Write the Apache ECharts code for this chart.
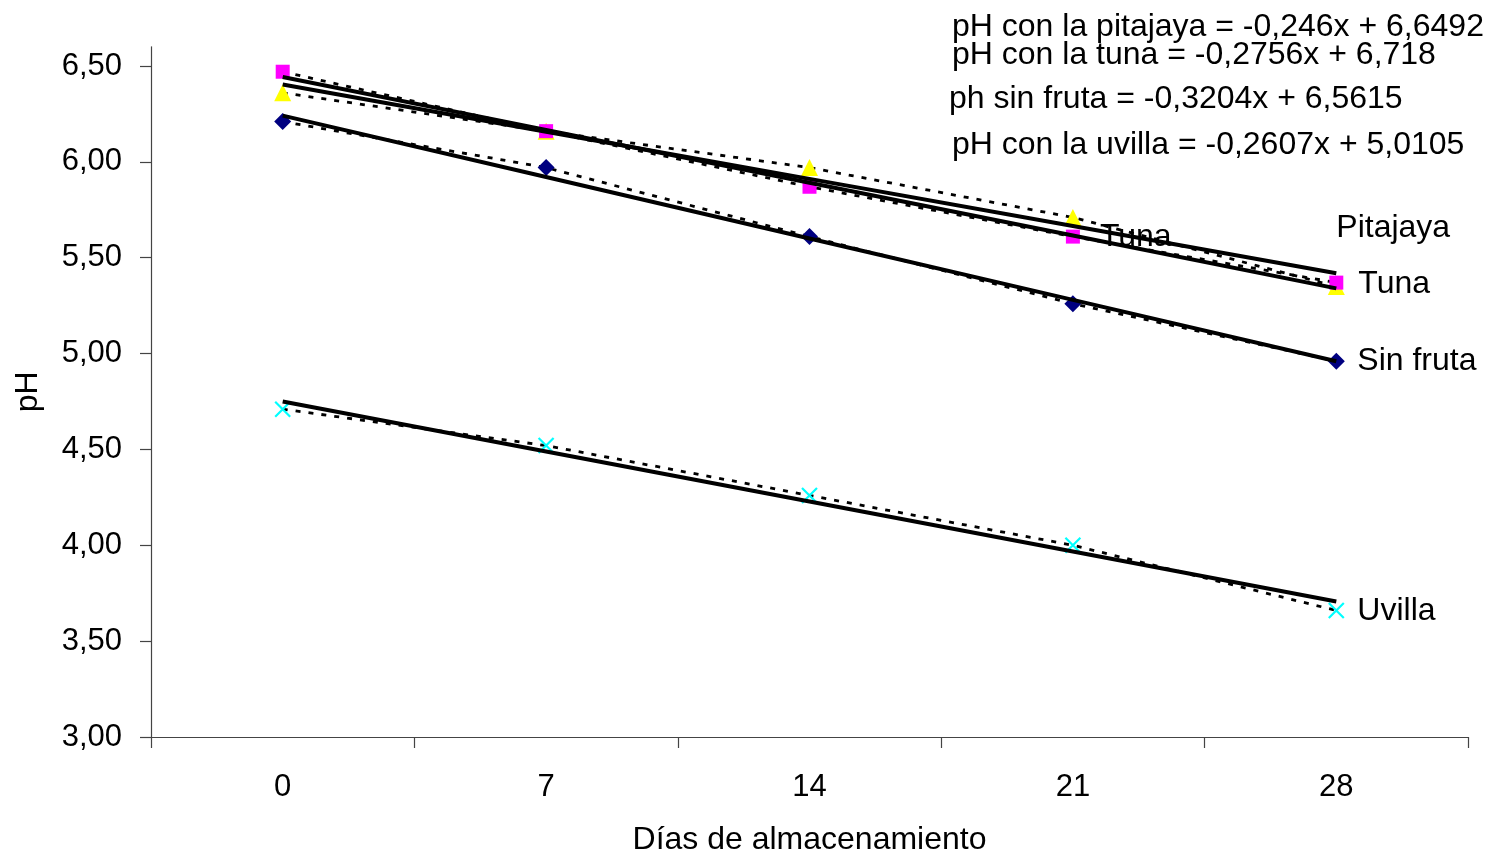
<!DOCTYPE html>
<html>
<head>
<meta charset="utf-8">
<script src="https://cdn.jsdelivr.net/npm/echarts@6/dist/echarts.min.js"></script>
<style>
  html, body { margin: 0; padding: 0; background: #fff; }
  #chart { width: 1497px; height: 861px; }
</style>
</head>
<body>
<div id="chart"></div>
<script>
// Storage days (category axis)
const days = ['0', '7', '14', '21', '28'];

// Measured pH per treatment
const phTuna = [6.47, 6.16, 5.87, 5.61, 5.37];
const phPitajaya = [6.36, 6.16, 5.97, 5.71, 5.35];
const phSinFruta = [6.21, 5.97, 5.61, 5.26, 4.96];
const phUvilla = [4.71, 4.52, 4.26, 4.00, 3.66];

// Linear trend coefficients (x = 1..5 over the categories)
const slopePitajaya = -0.246, interceptPitajaya = 6.6492;
const slopeTuna = -0.2756, interceptTuna = 6.718;
const slopeSinFruta = -0.3204, interceptSinFruta = 6.5615;
const slopeUvilla = -0.2607, interceptUvilla = 5.0105;

// Trend equation captions
const eqPitajaya = 'pH con la pitajaya = -0,246x + 6,6492';
const eqTuna = 'pH con la tuna = -0,2756x + 6,718';
const eqSinFruta = 'ph sin fruta = -0,3204x + 6,5615';
const eqUvilla = 'pH con la uvilla = -0,2607x + 5,0105';

// Y axis ticks
const yTicks = [3, 3.5, 4, 4.5, 5, 5.5, 6, 6.5];
const yMin = 3, yMax = 6.6;

const FONT = '"Liberation Sans", Arial, sans-serif';

function trend(slope, intercept) {
  return days.map((d, i) => +(slope * (i + 1) + intercept).toFixed(4));
}

// Attach a text label to selected points of a series
function withLabels(values, list) {
  const data = values.slice();
  list.forEach(([idx, text, offset]) => {
    data[idx] = {
      value: values[idx],
      label: {
        show: true, formatter: text, position: 'inside', align: 'left',
        verticalAlign: 'middle', offset: offset,
        color: '#000', fontSize: 32, fontFamily: FONT
      }
    };
  });
  return data;
}

function pointSeries(name, data, symbol, size, color, extraItem) {
  return {
    name: name, type: 'line', data: data,
    symbol: symbol, symbolSize: size,
    itemStyle: Object.assign({ color: color }, extraItem || {}),
    lineStyle: { color: '#000', width: 2.8, type: [5, 8] },
    z: 2
  };
}

function trendSeries(name, values) {
  return {
    name: name, type: 'line', data: values, symbol: 'none',
    lineStyle: { color: '#000', width: 4, type: 'solid' },
    z: 3, silent: true
  };
}

const chart = echarts.init(document.getElementById('chart'), null, { renderer: 'canvas' });

chart.setOption({
  animation: false,
  backgroundColor: '#fff',
  grid: { left: 151, right: 29, top: 46.8, bottom: 121.5, containLabel: false },
  xAxis: {
    type: 'category', data: days, boundaryGap: true,
    name: 'Días de almacenamiento', nameLocation: 'middle', nameGap: 87,
    nameTextStyle: { color: '#000', fontSize: 32, fontFamily: FONT },
    axisLine: { show: true, lineStyle: { color: '#444', width: 1.2 } },
    axisTick: { show: true, inside: false, length: 11, alignWithLabel: false, lineStyle: { color: '#444', width: 1.2 } },
    axisLabel: { color: '#000', fontSize: 31, fontFamily: FONT, margin: 34.5 },
    splitLine: { show: false }
  },
  yAxis: {
    type: 'value', min: yMin, max: yMax,
    name: 'pH', nameLocation: 'middle', nameGap: 107, nameRotate: 90,
    nameTextStyle: { color: '#000', fontSize: 32, fontFamily: FONT },
    axisLine: { show: true, lineStyle: { color: '#444', width: 1.2 } },
    axisTick: { show: true, inside: false, length: 11, customValues: yTicks, lineStyle: { color: '#444', width: 1.2 } },
    axisLabel: {
      color: '#000', fontSize: 31, fontFamily: FONT, margin: 29,
      customValues: yTicks,
      formatter: v => v.toFixed(2).replace('.', ',')
    },
    splitLine: { show: false }
  },
  series: [
    pointSeries('Sin fruta', withLabels(phSinFruta, [[4, 'Sin fruta', [21, 0]]]), 'diamond', 17, '#000080'),
    pointSeries('Uvilla', withLabels(phUvilla, [[4, 'Uvilla', [21, 1]]]), 'path://M0,0L10,10M10,0L0,10', 15, '#00FFFF',
      { borderColor: '#00FFFF', borderWidth: 2.2 }),
    pointSeries('Pitajaya', withLabels(phPitajaya, [[4, 'Pitajaya', [0, -58]]]), 'triangle', 17, '#FFFF00'),
    pointSeries('Tuna', withLabels(phTuna, [[3, 'Tuna', [27, 1]], [4, 'Tuna', [22, 2]]]), 'rect', 14, '#FF00FF'),
    trendSeries('Tendencia pitajaya', trend(slopePitajaya, interceptPitajaya)),
    trendSeries('Tendencia tuna', trend(slopeTuna, interceptTuna)),
    trendSeries('Tendencia sin fruta', trend(slopeSinFruta, interceptSinFruta)),
    trendSeries('Tendencia uvilla', trend(slopeUvilla, interceptUvilla))
  ],
  graphic: [
    { type: 'text', left: 952, top: 11, style: { text: eqPitajaya, font: '32px ' + FONT, fill: '#000' }, z: 10 },
    { type: 'text', left: 952, top: 39, style: { text: eqTuna, font: '32px ' + FONT, fill: '#000' }, z: 10 },
    { type: 'text', left: 949, top: 83, style: { text: eqSinFruta, font: '32px ' + FONT, fill: '#000' }, z: 10 },
    { type: 'text', left: 952, top: 129, style: { text: eqUvilla, font: '32px ' + FONT, fill: '#000' }, z: 10 }
  ]
});
</script>
</body>
</html>
